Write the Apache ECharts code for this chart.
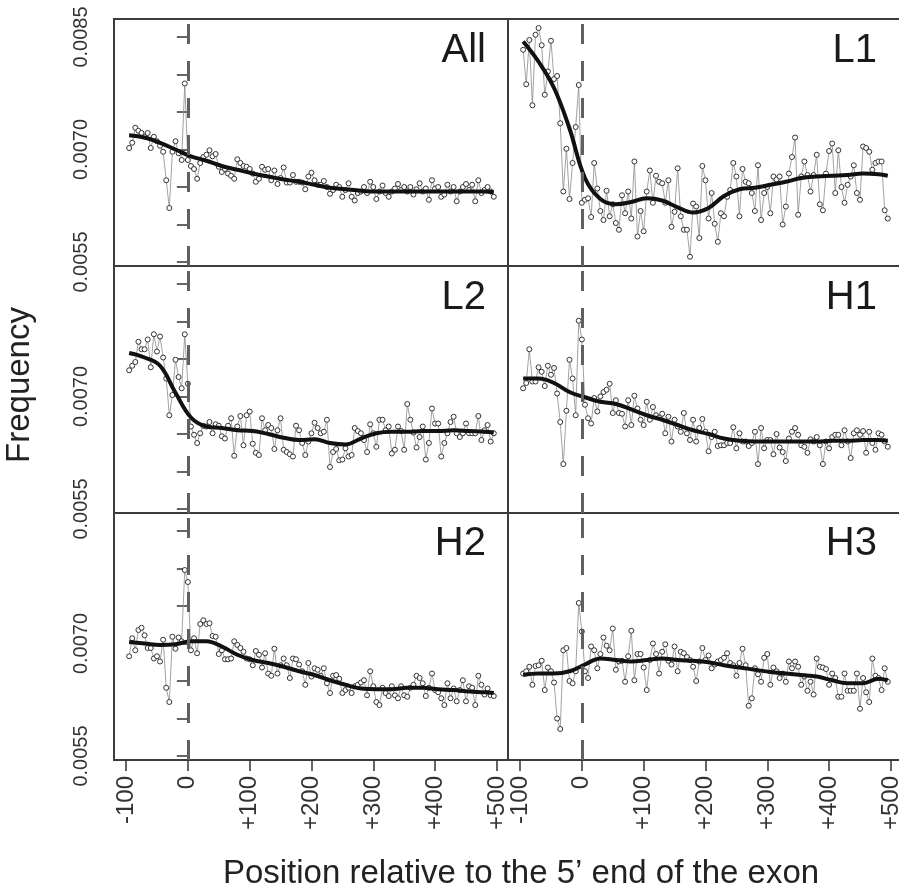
<!DOCTYPE html>
<html>
<head>
<meta charset="utf-8">
<script src="https://cdn.jsdelivr.net/npm/echarts@6/dist/echarts.min.js"></script>
<style>
html,body{margin:0;padding:0;background:#fff;}
#c{width:899px;height:891px;}
</style>
</head>
<body>
<div id="c"></div>
<script>
// ---------- DATA ----------
const positions = [-95,-90,-85,-80,-75,-70,-65,-60,-55,-50,-45,-40,-35,-30,-25,-20,-15,-10,-5,0,
5,10,15,20,25,30,35,40,45,50,55,60,65,70,75,80,85,90,95,100,
105,110,115,120,125,130,135,140,145,150,155,160,165,170,175,180,185,190,195,200,
205,210,215,220,225,230,235,240,245,250,255,260,265,270,275,280,285,290,295,300,
305,310,315,320,325,330,335,340,345,350,355,360,365,370,375,380,385,390,395,400,
405,410,415,420,425,430,435,440,445,450,455,460,465,470,475,480,485,490,495];

const smoothPositions = [-95,-70,-45,-20,5,30,55,80,105,130,155,180,205,230,255,280,305,330,355,380,405,430,455,480,495];

const panelNames = ['All','L1','L2','H1','H2','H3'];

const allValues = [0.00702,0.00709,0.00729,0.00725,0.00722,0.00717,0.00722,0.00702,0.00717,0.00711,
0.00705,0.00697,0.00659,0.00622,0.00697,0.00711,0.00695,0.00686,0.00788,0.00686,
0.00678,0.00674,0.00661,0.00682,0.0069,0.00693,0.00699,0.00691,0.00694,0.00677,
0.0067,0.00674,0.00668,0.00665,0.00661,0.00687,0.00682,0.00678,0.00677,0.00674,
0.00668,0.00657,0.00661,0.00677,0.00673,0.00674,0.00659,0.00672,0.00654,0.00662,
0.00676,0.00656,0.00656,0.00666,0.00657,0.00657,0.00656,0.00647,0.00664,0.00669,
0.00659,0.00653,0.00653,0.00658,0.0065,0.00641,0.00646,0.00653,0.0065,0.00637,
0.00646,0.00655,0.00637,0.00632,0.00642,0.00644,0.0065,0.00642,0.00657,0.0065,
0.00634,0.00644,0.00652,0.00642,0.00637,0.00644,0.00648,0.00654,0.00646,0.0065,
0.00644,0.0065,0.0064,0.00647,0.00655,0.00644,0.00648,0.00633,0.00659,0.00648,
0.0065,0.00637,0.0064,0.00653,0.00644,0.0065,0.00631,0.00644,0.0065,0.00654,
0.00646,0.00653,0.00631,0.00659,0.00642,0.00646,0.0065,0.00644,0.00637];
const allSmooth = [0.00719,0.00716,0.00709,0.007,0.00691,0.00685,0.00678,0.00673,0.00668,0.00664,0.0066,0.00657,0.00653,0.00649,0.00647,0.00645,0.00644,0.00644,0.00644,0.00644,0.00644,0.00644,0.00644,0.00644,0.00643];

const l1Values = [0.00833,0.00787,0.00846,0.00759,0.00853,0.00862,0.00839,0.00773,0.00804,0.00845,
0.00794,0.00798,0.00735,0.00644,0.00701,0.00634,0.00682,0.0073,0.00786,0.00629,
0.00633,0.00635,0.0061,0.00682,0.00648,0.00618,0.00606,0.00645,0.00611,0.00627,
0.00602,0.00593,0.00639,0.00615,0.00644,0.00608,0.00684,0.00584,0.00618,0.00591,
0.00644,0.00672,0.00629,0.00665,0.00657,0.00655,0.00629,0.00659,0.00597,0.00617,
0.00675,0.00611,0.00593,0.00593,0.00557,0.00628,0.00624,0.00582,0.00678,0.00659,
0.00608,0.00642,0.00601,0.00577,0.00615,0.00611,0.00637,0.00646,0.00682,0.00664,
0.00611,0.00674,0.00657,0.00655,0.00642,0.00618,0.00679,0.00606,0.00642,0.0065,
0.00615,0.00664,0.0066,0.00664,0.006,0.00624,0.00668,0.0069,0.00716,0.00613,
0.00664,0.00684,0.00666,0.00644,0.00666,0.00693,0.00627,0.00619,0.00668,0.00698,
0.00708,0.00642,0.00699,0.0065,0.00629,0.00653,0.00664,0.00679,0.00642,0.00633,
0.00704,0.00702,0.00697,0.00673,0.00682,0.00684,0.00684,0.00619,0.00608];
const l1Smooth = [0.00844,0.00817,0.00782,0.00728,0.00662,0.00634,0.00627,0.0063,0.00635,0.00632,0.00623,0.00616,0.00622,0.00638,0.00647,0.00649,0.00653,0.00657,0.00662,0.00664,0.00665,0.00666,0.00668,0.00667,0.00665];

const l2Values = [0.00735,0.00741,0.00746,0.00773,0.00763,0.00763,0.00776,0.00739,0.00783,0.0076,
0.0078,0.00752,0.00724,0.00675,0.00702,0.00749,0.00726,0.00711,0.00783,0.00717,
0.0066,0.00649,0.00638,0.00651,0.00661,0.0066,0.00666,0.00651,0.00663,0.00661,
0.00647,0.00644,0.00661,0.00671,0.00621,0.0066,0.00674,0.00635,0.00675,0.0068,
0.00637,0.00625,0.00622,0.00671,0.00655,0.00662,0.00658,0.0063,0.00655,0.00671,
0.00629,0.00626,0.00623,0.0062,0.00661,0.00655,0.00638,0.00622,0.0064,0.00651,
0.00665,0.00658,0.00651,0.00653,0.00669,0.00606,0.00626,0.0063,0.00615,0.00616,
0.00631,0.0062,0.00622,0.00658,0.00654,0.00651,0.00642,0.00626,0.00663,0.00651,
0.00633,0.00669,0.00669,0.00655,0.0066,0.00624,0.00629,0.0066,0.00654,0.00629,
0.0069,0.00669,0.00652,0.00632,0.00646,0.0066,0.00616,0.00638,0.00684,0.00664,
0.00664,0.0062,0.00638,0.00651,0.00666,0.00673,0.00651,0.00646,0.00651,0.00664,
0.00651,0.00651,0.00651,0.00674,0.00642,0.00655,0.00662,0.0064,0.00651];
const l2Smooth = [0.00758,0.00752,0.00741,0.00705,0.00672,0.0066,0.00658,0.00655,0.00654,0.0065,0.00645,0.00642,0.00643,0.00638,0.00636,0.00644,0.00651,0.00653,0.00653,0.00654,0.00654,0.00655,0.00654,0.00653,0.00652];

const h1Values = [0.00711,0.00718,0.00763,0.0072,0.0072,0.00739,0.00733,0.00714,0.00741,0.00729,
0.00738,0.00704,0.00666,0.0061,0.00681,0.00749,0.00724,0.00675,0.00801,0.00776,
0.00689,0.00671,0.00664,0.00698,0.0068,0.007,0.00706,0.00709,0.00717,0.00678,
0.00695,0.00678,0.00677,0.0066,0.00695,0.00662,0.00701,0.00684,0.00669,0.00662,
0.00693,0.00669,0.00686,0.00675,0.00672,0.00677,0.00651,0.00673,0.0064,0.00669,
0.0066,0.00653,0.00678,0.00651,0.00642,0.00669,0.0064,0.00658,0.0067,0.00653,
0.00627,0.00646,0.00653,0.00634,0.00635,0.00635,0.00638,0.00638,0.00659,0.00631,
0.00651,0.0064,0.0064,0.00634,0.00638,0.00653,0.0061,0.00658,0.00631,0.00642,
0.00642,0.00623,0.0065,0.00632,0.00626,0.00614,0.00644,0.00653,0.00658,0.00649,
0.00635,0.00633,0.00625,0.00643,0.0064,0.00646,0.00635,0.0061,0.0064,0.00631,
0.00646,0.00649,0.00649,0.00635,0.00655,0.0064,0.00618,0.00651,0.00655,0.00649,
0.00654,0.00625,0.00653,0.00638,0.00629,0.00651,0.00649,0.0064,0.00633];
const h1Smooth = [0.00724,0.00724,0.00718,0.00706,0.00699,0.00693,0.0069,0.00683,0.00675,0.00669,0.00662,0.00655,0.0065,0.00644,0.00641,0.0064,0.0064,0.0064,0.0064,0.0064,0.00641,0.00641,0.00642,0.00642,0.00641];

const h2Values = [0.00683,0.00707,0.00691,0.00718,0.00721,0.00711,0.00694,0.00694,0.0068,0.00683,
0.00676,0.00705,0.00641,0.00622,0.00709,0.00693,0.00708,0.00703,0.00798,0.00782,
0.00691,0.00707,0.00687,0.00726,0.00731,0.00726,0.00727,0.0071,0.00709,0.00686,
0.00691,0.00679,0.00679,0.0068,0.00703,0.00698,0.00694,0.00689,0.0068,0.00679,
0.00671,0.0069,0.00685,0.00668,0.00687,0.0066,0.00657,0.00693,0.0066,0.00671,
0.0068,0.00671,0.00654,0.0068,0.00679,0.00672,0.00663,0.00645,0.00674,0.00656,
0.00667,0.00665,0.00657,0.00667,0.00647,0.00634,0.00657,0.00658,0.00653,0.00634,
0.00638,0.00641,0.00634,0.00643,0.00645,0.00648,0.00651,0.00631,0.00663,0.00643,
0.00622,0.00618,0.00641,0.00634,0.0063,0.00643,0.00631,0.00627,0.00643,0.00631,
0.00629,0.00641,0.00645,0.00657,0.00654,0.00647,0.0063,0.00641,0.0066,0.00638,
0.00635,0.00627,0.00618,0.00647,0.00627,0.0064,0.00623,0.00638,0.00651,0.00623,
0.00643,0.00641,0.00618,0.00657,0.00645,0.00632,0.0064,0.00631,0.0063];
const h2Smooth = [0.00702,0.007,0.00698,0.00699,0.00703,0.00703,0.00696,0.00685,0.00678,0.00674,0.00669,0.00663,0.00658,0.00651,0.00645,0.0064,0.00639,0.00639,0.00641,0.00641,0.00639,0.00638,0.00636,0.00635,0.00634];

const h3Values = [0.0066,0.00663,0.00669,0.00645,0.0067,0.00671,0.00677,0.00638,0.00668,0.00663,
0.00648,0.006,0.00586,0.00691,0.00694,0.0065,0.00647,0.00663,0.00754,0.00716,
0.00663,0.00654,0.00696,0.00691,0.00667,0.00686,0.00708,0.00697,0.00691,0.0072,
0.00665,0.00676,0.00677,0.00649,0.00683,0.00717,0.00651,0.00686,0.00686,0.00668,
0.00638,0.00678,0.007,0.00686,0.0066,0.00689,0.00699,0.00677,0.00672,0.00696,
0.00663,0.00689,0.00687,0.00682,0.00678,0.00669,0.0065,0.00676,0.00694,0.00678,
0.00684,0.00667,0.00672,0.00676,0.00678,0.00681,0.00687,0.00674,0.00671,0.00657,
0.00674,0.00693,0.00671,0.00617,0.00627,0.00667,0.00659,0.00649,0.00681,0.00686,
0.00645,0.00668,0.00663,0.00654,0.0066,0.00649,0.00676,0.00667,0.00676,0.00669,
0.00645,0.00656,0.00637,0.00649,0.00632,0.0068,0.00669,0.00668,0.00666,0.00645,
0.0066,0.00654,0.00629,0.00629,0.0066,0.00637,0.00637,0.00637,0.0066,0.00613,
0.00654,0.00635,0.00622,0.0068,0.00657,0.00654,0.00638,0.00667,0.00649];
const h3Smooth = [0.00658,0.0066,0.0066,0.00663,0.00672,0.0068,0.00678,0.00676,0.00678,0.0068,0.00678,0.00677,0.00675,0.00671,0.00668,0.00665,0.00662,0.0066,0.00658,0.00656,0.00651,0.00647,0.00647,0.00653,0.00651];

const xTickValues = [-100,0,100,200,300,400,500];
const yTickValues = [0.0055,0.006,0.0065,0.007,0.0075,0.008,0.0085];
const yLabelValuesTop = [0.0055,0.007,0.0085];
const yLabelValuesLower = [0.0055,0.007];
const xTitle = 'Position relative to the 5\u2019 end of the exon';
const yTitle = 'Frequency';

// ---------- LAYOUT / STYLE ----------
const FONT = '"Liberation Sans", Arial, Helvetica, sans-serif';
const colLeft = [114, 508];
const rowTop = [19, 266, 513];
const PW = 394, PH = 247;
const X_MIN = -119.5, X_MAX = 518;
const Y_MIN = 0.005447, Y_MAX = 0.00874;

const panelValues = [allValues, l1Values, l2Values, h1Values, h2Values, h3Values];
const panelSmooth = [allSmooth, l1Smooth, l2Smooth, h1Smooth, h2Smooth, h3Smooth];

const grids = [], xAxes = [], yAxes = [], series = [], graphics = [];
for (let i = 0; i < 6; i++) {
  const col = i % 2, row = Math.floor(i / 2);
  grids.push({
    left: colLeft[col], top: rowTop[row], width: PW, height: PH,
    show: true, borderColor: '#3c3c3c', borderWidth: 2, backgroundColor: 'transparent',
    containLabel: false, outerBoundsMode: 'none'
  });
  xAxes.push({
    type: 'value', gridIndex: i, min: X_MIN, max: X_MAX,
    axisLine: { show: false },
    splitLine: { show: false },
    axisTick: { show: row === 2, customValues: xTickValues, length: 11, inside: false,
      lineStyle: { color: '#333', width: 1.5 } },
    axisLabel: { show: row === 2, customValues: xTickValues, rotate: 90, margin: 16,
      fontSize: 24, fontFamily: FONT, color: '#333',
      formatter: v => (v > 0 ? '+' + v : String(v)) }
  });
  yAxes.push({
    type: 'value', gridIndex: i, min: Y_MIN, max: Y_MAX,
    axisLine: { show: false },
    splitLine: { show: false },
    axisTick: { show: col === 0, customValues: yTickValues, length: 11, inside: false,
      lineStyle: { color: '#333', width: 1.5 } },
    axisLabel: { show: col === 0, customValues: row === 0 ? yLabelValuesTop : yLabelValuesLower,
      rotate: 90, margin: 23,
      fontSize: 20, fontFamily: FONT, color: '#333',
      formatter: v => Number(v).toFixed(4) }
  });
  series.push({
    type: 'line', xAxisIndex: i, yAxisIndex: i, z: 2,
    data: positions.map((x, k) => [x, panelValues[i][k]]),
    symbol: 'circle', symbolSize: 5, showAllSymbol: true,
    itemStyle: { color: '#fff', borderColor: '#333', borderWidth: 1 },
    lineStyle: { color: '#8a8a8a', width: 0.8 },
    emphasis: { disabled: true },
    markLine: {
      silent: true, symbol: ['none', 'none'], label: { show: false },
      lineStyle: { type: [20, 17], color: '#606060', width: 3 },
      emphasis: { disabled: true },
      data: [{ xAxis: 0 }]
    }
  });
  series.push({
    type: 'line', xAxisIndex: i, yAxisIndex: i, z: 3,
    data: smoothPositions.map((x, k) => [x, panelSmooth[i][k]]),
    smooth: 0.4, symbol: 'none',
    lineStyle: { color: '#111', width: 4 },
    emphasis: { disabled: true }
  });
  graphics.push({
    type: 'text', x: col === 0 ? 486 : 877, y: [51, 298, 544][row],
    style: { text: panelNames[i], font: '40px ' + FONT, fill: '#1a1a1a',
      textAlign: 'right', align: 'right', textVerticalAlign: 'middle', verticalAlign: 'middle' }
  });
}
graphics.push({
  type: 'text', x: 20, y: 385, rotation: Math.PI / 2,
  style: { text: yTitle, font: '33px ' + FONT, fill: '#222',
    textAlign: 'center', align: 'center', textVerticalAlign: 'middle', verticalAlign: 'middle' }
});
graphics.push({
  type: 'text', x: 521, y: 874,
  style: { text: xTitle, font: '33px ' + FONT, fill: '#222',
    textAlign: 'center', align: 'center', textVerticalAlign: 'middle', verticalAlign: 'middle' }
});

const chart = echarts.init(document.getElementById('c'), null, { renderer: 'canvas' });
chart.setOption({
  animation: false,
  backgroundColor: '#fff',
  grid: grids, xAxis: xAxes, yAxis: yAxes, series: series,
  graphic: graphics
});
</script>
</body>
</html>
